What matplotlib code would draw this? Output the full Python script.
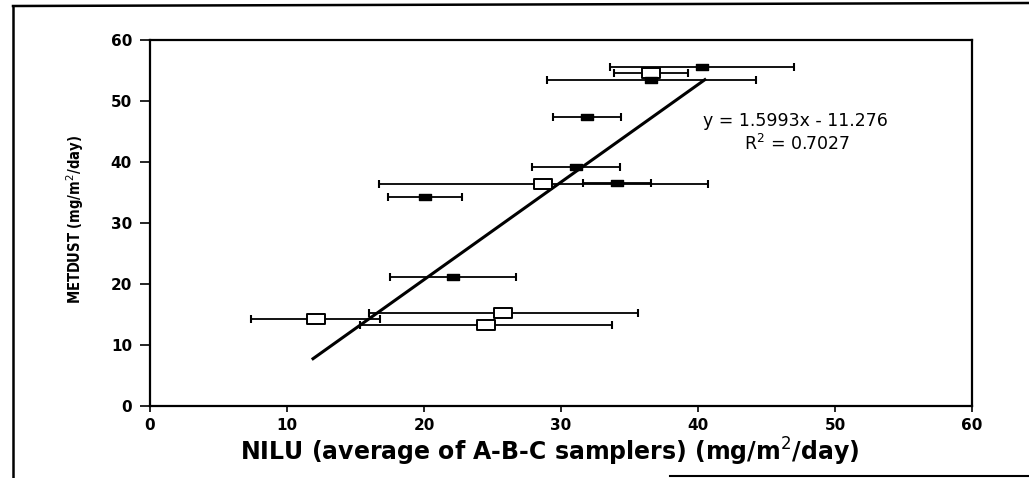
"""Recreate the METDUST vs NILU scatter with x error bars and regression line."""

import matplotlib

matplotlib.use("Agg")
import matplotlib.pyplot as plt
from matplotlib.lines import Line2D
from matplotlib.path import Path

# filled markers (black)
filled_x = [31.9, 40.3, 36.6, 31.1, 34.1, 20.1, 22.1]
filled_y = [47.3, 55.6, 53.5, 39.2, 36.5, 34.2, 21.1]
filled_xerr = [2.5, 6.7, 7.6, 3.2, 2.5, 2.7, 4.6]

# open markers
open_x = [36.6, 28.7, 25.8, 12.1, 24.5]
open_y = [54.6, 36.4, 15.3, 14.2, 13.3]
open_xerr = [2.7, 12.0, 9.8, 4.7, 9.2]

slope = 1.5993
intercept = -11.276
r_squared = 0.7027
fit_x = [11.9, 40.5]

x_ticks = [0, 10, 20, 30, 40, 50, 60]
y_ticks = [0, 10, 20, 30, 40, 50, 60]

plt.rcParams["font.family"] = ["DejaVu Sans"]

# wide rectangle marker like the scanned original
rect = Path([(-1.0, -0.5), (1.0, -0.5), (1.0, 0.5), (-1.0, 0.5), (-1.0, -0.5)],
            [Path.MOVETO, Path.LINETO, Path.LINETO, Path.LINETO, Path.CLOSEPOLY])

fig = plt.figure(figsize=(10.29, 4.78), dpi=100)
ax = fig.add_axes([150 / 1029, 1 - 406 / 478, 822 / 1029, 366 / 478])

ax.errorbar(open_x, open_y, xerr=open_xerr, fmt="none", ecolor="black",
            elinewidth=1.3, capsize=3, capthick=1.5, zorder=2)
ax.errorbar(filled_x, filled_y, xerr=filled_xerr, fmt="none", ecolor="black",
            elinewidth=1.3, capsize=3, capthick=1.5, zorder=2)
ax.plot(open_x, open_y, linestyle="none", marker=rect, markersize=13,
        markerfacecolor="white", markeredgecolor="black", markeredgewidth=1.4, zorder=4)
ax.plot(filled_x, filled_y, linestyle="none", marker=rect, markersize=9,
        markerfacecolor="black", markeredgecolor="black", zorder=4)

fit_y = [slope * v + intercept for v in fit_x]
ax.plot(fit_x, fit_y, color="black", linewidth=2.2, zorder=3)

ax.text(47.1, 46.8, f"y = {slope}x - {abs(intercept)}", fontsize=12.5,
        ha="center", va="center")
ax.text(47.2, 42.9, f"R$^2$ = {r_squared}", fontsize=12.5,
        ha="center", va="center")

ax.set_xlim(0, 60)
ax.set_ylim(0, 60)
ax.set_xticks(x_ticks)
ax.set_yticks(y_ticks)
ax.tick_params(axis="y", direction="out", length=7, width=1.2, labelsize=11, pad=6)
ax.tick_params(axis="x", direction="out", length=4, width=1.2, labelsize=11, pad=5)
for label in ax.get_xticklabels() + ax.get_yticklabels():
    label.set_fontweight("bold")
for side in ax.spines.values():
    side.set_linewidth(1.6)

ax.set_xlabel("NILU (average of A-B-C samplers) (mg/m$^{2}$/day)", fontsize=17,
              fontweight="bold")
ax.xaxis.set_label_coords(0.486, -0.082)
ax.set_ylabel("METDUST (mg/m$^{2}$/day)", fontsize=10.5, fontweight="bold",
              fontstretch="condensed")
ax.yaxis.set_label_coords(-0.078, 0.51)

# scanned page frame
fig.add_artist(Line2D([13 / 1029, 13 / 1029], [0.0, 1 - 6 / 478],
                      transform=fig.transFigure, color="black", linewidth=1.8))
fig.add_artist(Line2D([13 / 1029, 1.0], [1 - 6 / 478, 1 - 3 / 478],
                      transform=fig.transFigure, color="black", linewidth=1.8))
fig.add_artist(Line2D([670 / 1029, 1.0], [2 / 478, 2 / 478],
                      transform=fig.transFigure, color="black", linewidth=1.5))

fig.savefig("out.png", dpi=100)
